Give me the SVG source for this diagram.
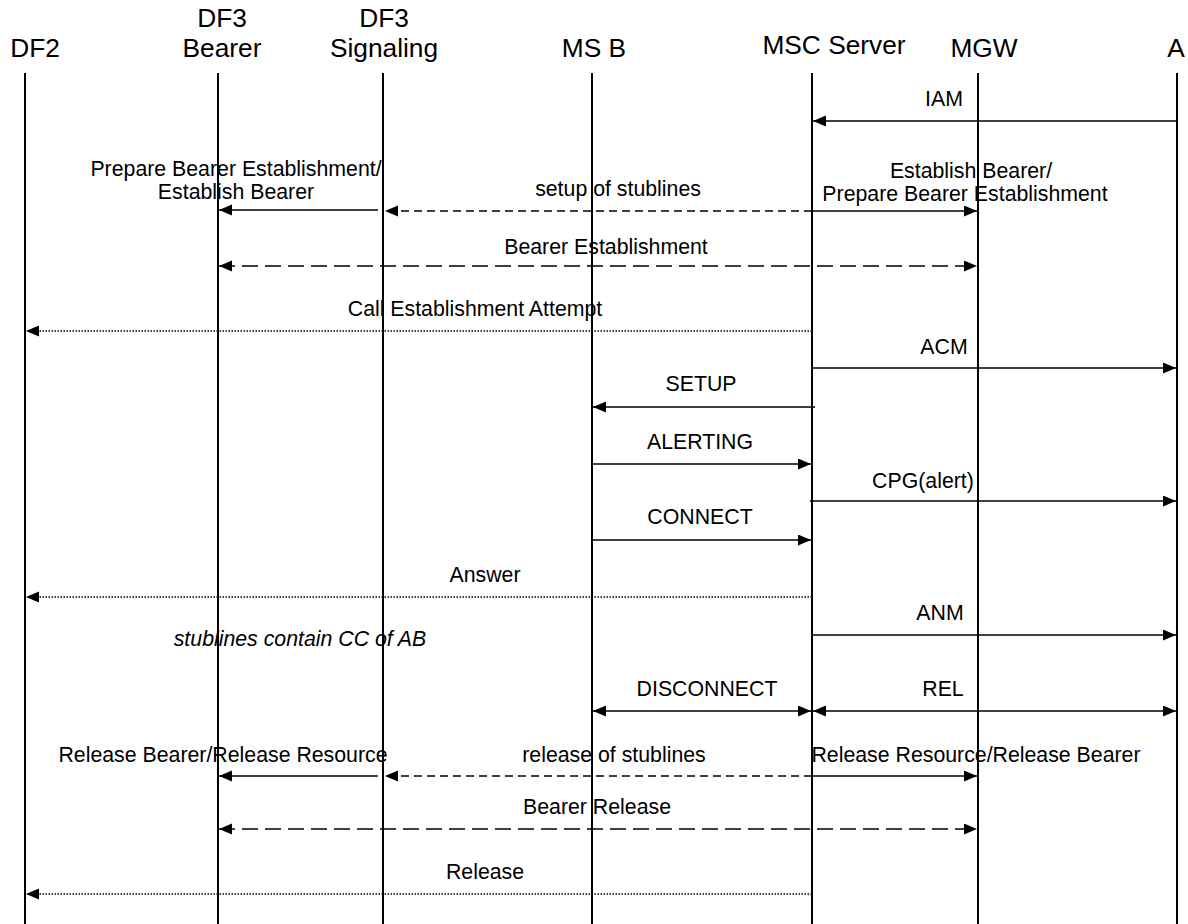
<svg xmlns="http://www.w3.org/2000/svg" width="1188" height="924" viewBox="0 0 1188 924">
<style>
text{font-family:"Liberation Sans",Arial,sans-serif;fill:#000}
.hd{font-size:26.3px;text-anchor:middle}
.lb{font-size:21.3px;text-anchor:middle}
.it{font-style:italic}
.life{stroke:#000;stroke-width:2;fill:none}
.m{stroke:#000;stroke-width:1.6;fill:none}
.sd{stroke-dasharray:8,5}
.ld{stroke-dasharray:16,7}
.dot{stroke:#000;stroke-width:1.3;fill:none;stroke-dasharray:1.5,1.5}
</style>
<defs>
<marker id="ah" markerUnits="userSpaceOnUse" markerWidth="14" markerHeight="12" refX="13" refY="5.5" orient="auto-start-reverse">
<path d="M0,0 L13,5.5 L0,11 z" fill="#000"/>
</marker>
</defs>
<g id="DF2"><text class="hd" x="35" y="57">DF2</text><line class="life" x1="25" y1="73" x2="25" y2="924"/></g>
<g id="DF3Bearer"><text class="hd" x="222" y="27">DF3</text><text class="hd" x="222" y="57">Bearer</text><line class="life" x1="218" y1="73" x2="218" y2="924"/></g>
<g id="DF3Signaling"><text class="hd" x="384" y="27">DF3</text><text class="hd" x="384" y="57">Signaling</text><line class="life" x1="383" y1="73" x2="383" y2="924"/></g>
<g id="MSB"><text class="hd" x="594" y="57">MS B</text><line class="life" x1="592" y1="73" x2="592" y2="924"/></g>
<g id="MSCServer"><text class="hd" x="834" y="54">MSC Server</text><line class="life" x1="812" y1="73" x2="812" y2="924"/></g>
<g id="MGW"><text class="hd" x="984" y="57">MGW</text><line class="life" x1="978" y1="73" x2="978" y2="924"/></g>
<g id="A"><text class="hd" x="1176" y="57">A</text><line class="life" x1="1177" y1="73" x2="1177" y2="924"/></g>
<g id="connectors">
<line class="m" x1="1177" y1="121" x2="813" y2="121" marker-end="url(#ah)"/>
<text class="lb" x="944" y="106">IAM</text>

<line class="m" x1="378" y1="210" x2="219" y2="210" marker-end="url(#ah)"/>
<text class="lb" x="236" y="176">Prepare Bearer Establishment/</text>
<text class="lb" x="236" y="199">Establish Bearer</text>
<line class="m sd" x1="812" y1="211" x2="385" y2="211" marker-end="url(#ah)"/>
<line class="m" x1="812" y1="211" x2="977" y2="211" marker-end="url(#ah)"/>
<text class="lb" x="618" y="196">setup of stublines</text>
<text class="lb" x="971" y="178">Establish Bearer/</text>
<text class="lb" x="965" y="201">Prepare Bearer Establishment</text>

<line class="m ld" x1="219" y1="266" x2="977" y2="266" marker-start="url(#ah)" marker-end="url(#ah)"/>
<text class="lb" x="606" y="254">Bearer Establishment</text>

<line class="dot" x1="812" y1="331" x2="26" y2="331" marker-end="url(#ah)"/>
<text class="lb" x="475" y="316">Call Establishment Attempt</text>

<line class="m" x1="812" y1="368" x2="1176" y2="368" marker-end="url(#ah)"/>
<text class="lb" x="944" y="354">ACM</text>

<line class="m" x1="815" y1="407" x2="593" y2="407" marker-end="url(#ah)"/>
<text class="lb" x="701" y="391">SETUP</text>

<line class="m" x1="592" y1="464" x2="811" y2="464" marker-end="url(#ah)"/>
<text class="lb" x="700" y="449">ALERTING</text>

<line class="m" x1="810" y1="501" x2="1176" y2="501" marker-end="url(#ah)"/>
<text class="lb" x="923" y="488">CPG(alert)</text>

<line class="m" x1="592" y1="540" x2="811" y2="540" marker-end="url(#ah)"/>
<text class="lb" x="700" y="524">CONNECT</text>

<line class="dot" x1="812" y1="597" x2="26" y2="597" marker-end="url(#ah)"/>
<text class="lb" x="485" y="582">Answer</text>

<line class="m" x1="812" y1="635" x2="1176" y2="635" marker-end="url(#ah)"/>
<text class="lb" x="940" y="620">ANM</text>

<text class="lb it" x="300" y="646">stublines contain CC of AB</text>

<line class="m" x1="593" y1="711" x2="811" y2="711" marker-start="url(#ah)" marker-end="url(#ah)"/>
<text class="lb" x="707" y="696">DISCONNECT</text>
<line class="m" x1="813" y1="711" x2="1176" y2="711" marker-start="url(#ah)" marker-end="url(#ah)"/>
<text class="lb" x="943" y="696">REL</text>

<line class="m" x1="378" y1="776" x2="219" y2="776" marker-end="url(#ah)"/>
<text class="lb" x="223" y="762">Release Bearer/Release Resource</text>
<line class="m sd" x1="812" y1="776" x2="385" y2="776" marker-end="url(#ah)"/>
<line class="m" x1="812" y1="776" x2="977" y2="776" marker-end="url(#ah)"/>
<text class="lb" x="614" y="762">release of stublines</text>
<text class="lb" x="976" y="762">Release Resource/Release Bearer</text>

<line class="m ld" x1="219" y1="829" x2="977" y2="829" marker-start="url(#ah)" marker-end="url(#ah)"/>
<text class="lb" x="597" y="814">Bearer Release</text>

<line class="dot" x1="812" y1="894" x2="26" y2="894" marker-end="url(#ah)"/>
<text class="lb" x="485" y="879">Release</text>
</g>
</svg>
